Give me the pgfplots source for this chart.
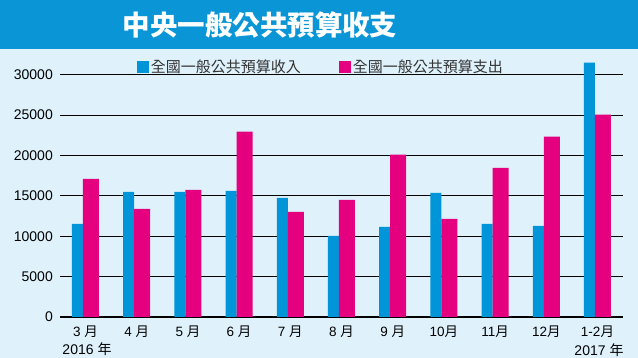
\documentclass[border=0pt]{standalone}
\usepackage{pgfplots}
\pgfplotsset{compat=1.18}
\usepackage{fontspec}
\setmainfont{Liberation Sans}
\newfontfamily\cjk{Noto Sans CJK TC}
\newfontfamily\cjktitle{Noto Sans CJK TC Black}
\definecolor{barblue}{HTML}{0095D9}
\definecolor{barpink}{HTML}{E5007F}
\definecolor{bgblue}{HTML}{DFF2FC}
\definecolor{titleblue}{HTML}{0A96D6}
\definecolor{legtext}{HTML}{333333}
\begin{document}
\begin{tikzpicture}
\fill[bgblue] (0,0) rectangle (638pt,358pt);
\fill[titleblue] (0,309pt) rectangle (638pt,358pt);
\node[text=white, font=\cjktitle\fontsize{27.5}{28}\selectfont] at (260pt,333pt) {中央一般公共預算收支};
\begin{axis}[
  at={(60pt,41pt)}, anchor=south west,
  scale only axis, width=563pt, height=242.4pt,
  xmin=-0.449, xmax=10.547, ymin=0, ymax=30000,
  clip=false,
  axis lines*=left,
  y axis line style={draw=none},
  x axis line style={line width=1.8pt, -},
  major tick length=0pt,
  ytick={0,5000,...,30000},
  scaled y ticks=false,
  ymajorgrids,
  grid style={black, line width=0.9pt},
  extra y ticks={20000}, extra y tick labels={},
  extra tick style={grid style={black, line width=1.6pt}},
  /pgf/number format/1000 sep={},
  /pgf/number format/assume math mode=true,
  yticklabel style={font=\fontsize{14}{14}\selectfont, inner xsep=0pt, xshift=-7pt, /pgf/number format/fixed},
  xtick={0,...,10},
  xticklabels={{3 {\cjk 月}},{4 {\cjk 月}},{5 {\cjk 月}},{6 {\cjk 月}},{7 {\cjk 月}},{8 {\cjk 月}},{9 {\cjk 月}},{10{\cjk 月}},{11{\cjk 月}},{12{\cjk 月}},{1-2{\cjk 月}}},
  xticklabel style={font=\fontsize{13.5}{14}\selectfont, anchor=base, yshift=-20pt, xshift=2.5pt},
  legend columns=2,
  legend style={draw=none, fill=none, at={(axis cs:1.05,30900)}, anchor=west, inner sep=0pt,
    font=\cjk\fontsize{15}{15}\selectfont, text=legtext,
    /tikz/every even column/.append style={column sep=36pt}},
  legend image code/.code={\fill[#1] (-4pt,-6pt) rectangle (8pt,6pt);},
]
\addplot[ybar, bar width=11pt, bar shift=-5.5pt, fill=barblue, draw=none] coordinates {
(0,11530) (1,15500) (2,15500) (3,15620) (4,14750) (5,10040) (6,11160) (7,15370) (8,11530) (9,11280) (10,31490)};
\addlegendentry{全國一般公共預算收入}
\addplot[ybar, bar width=16pt, bar shift=8pt, fill=barpink, draw=none] coordinates {
(0,17100) (1,13390) (2,15740) (3,22930) (4,13020) (5,14500) (6,20080) (7,12150) (8,18470) (9,22310) (10,25040)};
\addlegendentry{全國一般公共預算支出}
\end{axis}
\node[font=\fontsize{14}{14}\selectfont] at (87pt,9pt) {2016 {\cjk 年}};
\node[font=\fontsize{14}{14}\selectfont] at (599pt,8pt) {2017 {\cjk 年}};
\pgfresetboundingbox
\path (0,0) rectangle (638pt,358pt);
\end{tikzpicture}
\end{document}
